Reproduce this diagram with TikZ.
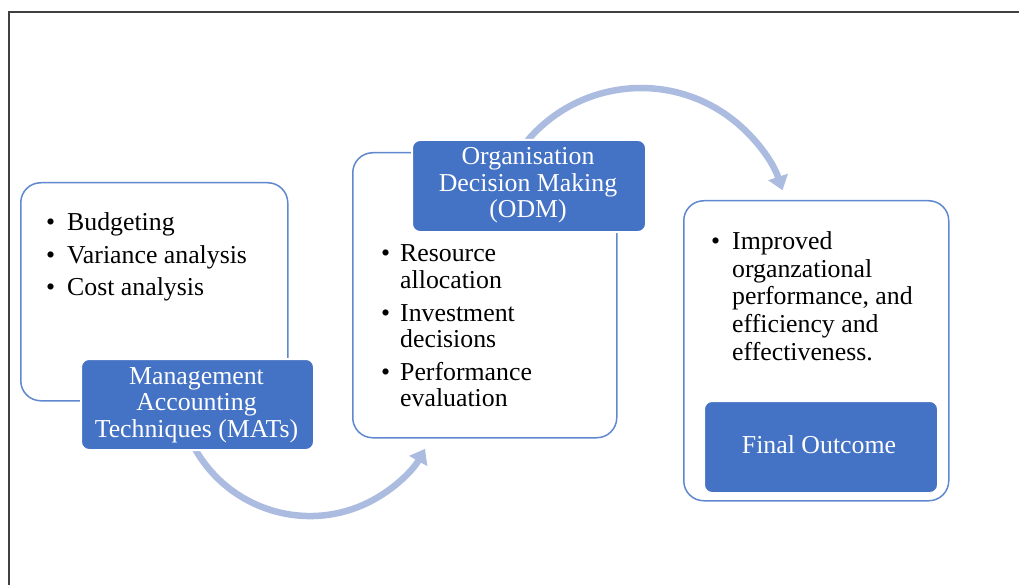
\documentclass[tikz,border=0pt]{standalone}
\usepackage{fontspec}
\setmainfont{Liberation Serif}
\usetikzlibrary{arrows.meta}

\definecolor{accent}{RGB}{68,114,196}
\definecolor{panelline}{RGB}{96,136,206}
\definecolor{flowblue}{RGB}{172,187,224}
\definecolor{framegray}{RGB}{64,64,64}

% bullet item: bullet in a fixed-width box, then the text
\newcommand{\bulletline}[2][21bp]{\makebox[#1][l]{\textbullet}#2}
% continuation line of a wrapped item
\newcommand{\contline}[2][21bp]{\hspace*{#1}#2}

\tikzset{
  panel/.style={draw=panelline, line width=1.5bp, fill=white,
    rounded corners=20bp, anchor=north west, inner sep=0pt},
  badge/.style={draw=white, line width=2bp, fill=accent,
    rounded corners=8bp, anchor=north west, inner sep=0pt},
  flow/.style={draw=flowblue, line width=6.5bp,
    -{Triangle[width=20bp,length=14bp]}},
  bodytext/.style={anchor=base west, inner sep=0pt, text=black,
    font=\fontsize{25.8bp}{26.5bp}\selectfont},
  badgetext/.style={anchor=base, inner sep=0pt, text=white,
    font=\fontsize{25.8bp}{26.5bp}\selectfont},
}

\begin{document}
\begin{tikzpicture}[x=1bp, y=-1bp]
  \useasboundingbox (0,0) rectangle (1019,585);

  % page frame (open to the right and bottom)
  \draw[framegray, line width=2bp] (1030,12) -- (8.7,12) -- (8.7,600);

  % curved flow arrows, drawn first so the boxes cover their tails
  \coordinate (flowAstart) at (193.5,446);
  \draw[flow] (flowAstart) arc[start angle=152, end angle=29.4, radius=132];
  \coordinate (flowBstart) at (523.6,145.3);
  \draw[flow] (flowBstart) arc[start angle=-142, end angle=-18.3, radius=149];

  % panels
  \node[panel, minimum width=267bp, minimum height=218bp] (matsPanel) at (20,182) {};
  \node[panel, minimum width=264bp, minimum height=285bp] (odmPanel) at (352,152) {};
  \node[panel, minimum width=265bp, minimum height=300bp] (outPanel) at (683,200) {};

  % title badges
  \node[badge, minimum width=233bp, minimum height=91bp] (matsBadge) at (80,358) {};
  \node[badge, minimum width=234bp, minimum height=92bp] (odmBadge) at (411,139) {};
  \node[badge, minimum width=234bp, minimum height=92bp] (outBadge) at (703,400) {};

  % panel contents
  \node[bodytext] (matsList) at (46,231) {\parbox[t]{235bp}{\raggedright
    \bulletline{Budgeting}\\[6bp]
    \bulletline{Variance analysis}\\[6bp]
    \bulletline{Cost analysis}}};

  \node[bodytext] (odmList) at (381,262) {\parbox[t]{225bp}{\raggedright
    \bulletline[19bp]{Resource}\\
    \contline[19bp]{allocation}\\[6bp]
    \bulletline[19bp]{Investment}\\
    \contline[19bp]{decisions}\\[6bp]
    \bulletline[19bp]{Performance}\\
    \contline[19bp]{evaluation}}};

  \node[bodytext, font=\fontsize{25.8bp}{27.5bp}\selectfont] (outList) at (711,250)
    {\parbox[t]{230bp}{\raggedright
    \bulletline{Improved}\\
    \contline{organzational}\\
    \contline{performance, and}\\
    \contline{efficiency and}\\
    \contline{effectiveness.}}};

  % badge labels
  \node[badgetext] (matsLabel) at (196.5,384) {\parbox[t]{230bp}{\centering
    Management\\ Accounting\\ Techniques (MATs)}};
  \node[badgetext] (odmLabel) at (528,165) {\parbox[t]{230bp}{\centering
    Organisation\\ Decision Making\\ (ODM)}};
  \node[badgetext] (outLabel) at (819,453) {Final Outcome};
\end{tikzpicture}
\end{document}
